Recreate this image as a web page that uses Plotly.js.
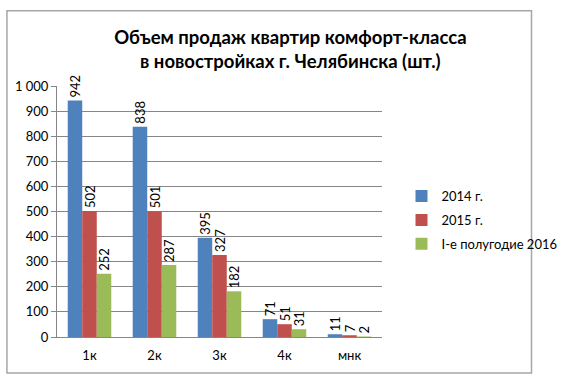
<!DOCTYPE html>
<html><head><meta charset="utf-8">
<script src="https://cdn.plot.ly/plotly-3.0.1.min.js"></script>
<style>html,body{margin:0;padding:0;background:#fff;}#chart{width:575px;height:379px;}</style>
</head><body><div id="chart"></div>
<script>
const categories = ["1к", "2к", "3к", "4к", "мнк"];
const seriesNames = ["2014 г.", "2015 г.", "I-е полугодие 2016"];
const values2014 = [942, 838, 395, 71, 11];
const values2015 = [502, 501, 327, 51, 7];
const values2016 = [252, 287, 182, 31, 2];
const colors = ["#4F81BD", "#C0504D", "#9BBB59"];
const allValues = [values2014, values2015, values2016];
const yTicks = [0, 100, 200, 300, 400, 500, 600, 700, 800, 900, 1000];

const font = "Lato, 'Open Sans', sans-serif";
const traces = allValues.map((v, i) => ({
  type: "bar", x: categories, y: v, name: seriesNames[i],
  marker: {color: colors[i]},
  text: v.map(String), textposition: "outside", textangle: -90,
  textfont: {family: font, size: 13, color: "#000"},
  constraintext: "none", cliponaxis: false,
  legendgroup: "g" + i, hoverinfo: "none"
}));

const layout = {
  width: 575, height: 379,
  margin: {l: 57, r: 166, t: 86, b: 42},
  paper_bgcolor: "#fff", plot_bgcolor: "#fff",
  separators: ". ",
  title: {text: "<b>Объем продаж квартир комфорт-класса<br>в новостройках г. Челябинска (шт.)</b>",
    font: {family: font, size: 18.5, color: "#000"}, x: 0.505, xanchor: "center", y: 0.885, yanchor: "middle"},
  barmode: "group", bargap: 0.33, bargroupgap: 0,
  xaxis: {type: "category", showgrid: false, showline: true, linecolor: "#868686", linewidth: 1,
    ticks: "", ticklabelstandoff: 6, tickfont: {family: font, size: 13, color: "#000"}, fixedrange: true},
  yaxis: {range: [0, 1000], tickvals: yTicks, tickformat: ",d", showgrid: true, gridcolor: "#868686", gridwidth: 1,
    showline: true, linecolor: "#868686", ticks: "outside", ticklen: 5, tickcolor: "#868686",
    tickfont: {family: font, size: 13, color: "#000"}, zeroline: false, fixedrange: true},
  showlegend: true,
  legend: {x: 1.06, xanchor: "left", y: 0.466, yanchor: "middle", traceorder: "grouped", tracegroupgap: 4,
    font: {family: font, size: 13, color: "#000"}, bgcolor: "rgba(0,0,0,0)"},
  shapes: [{type: "rect", xref: "paper", yref: "paper", x0: -0.154, x1: 1.46, y0: -0.143, y1: 1.30,
    line: {color: "#A6A6A6", width: 1.5}, fillcolor: "rgba(0,0,0,0)"}]
};
Plotly.newPlot("chart", traces, layout, {displayModeBar: false, staticPlot: true});
</script></body></html>
